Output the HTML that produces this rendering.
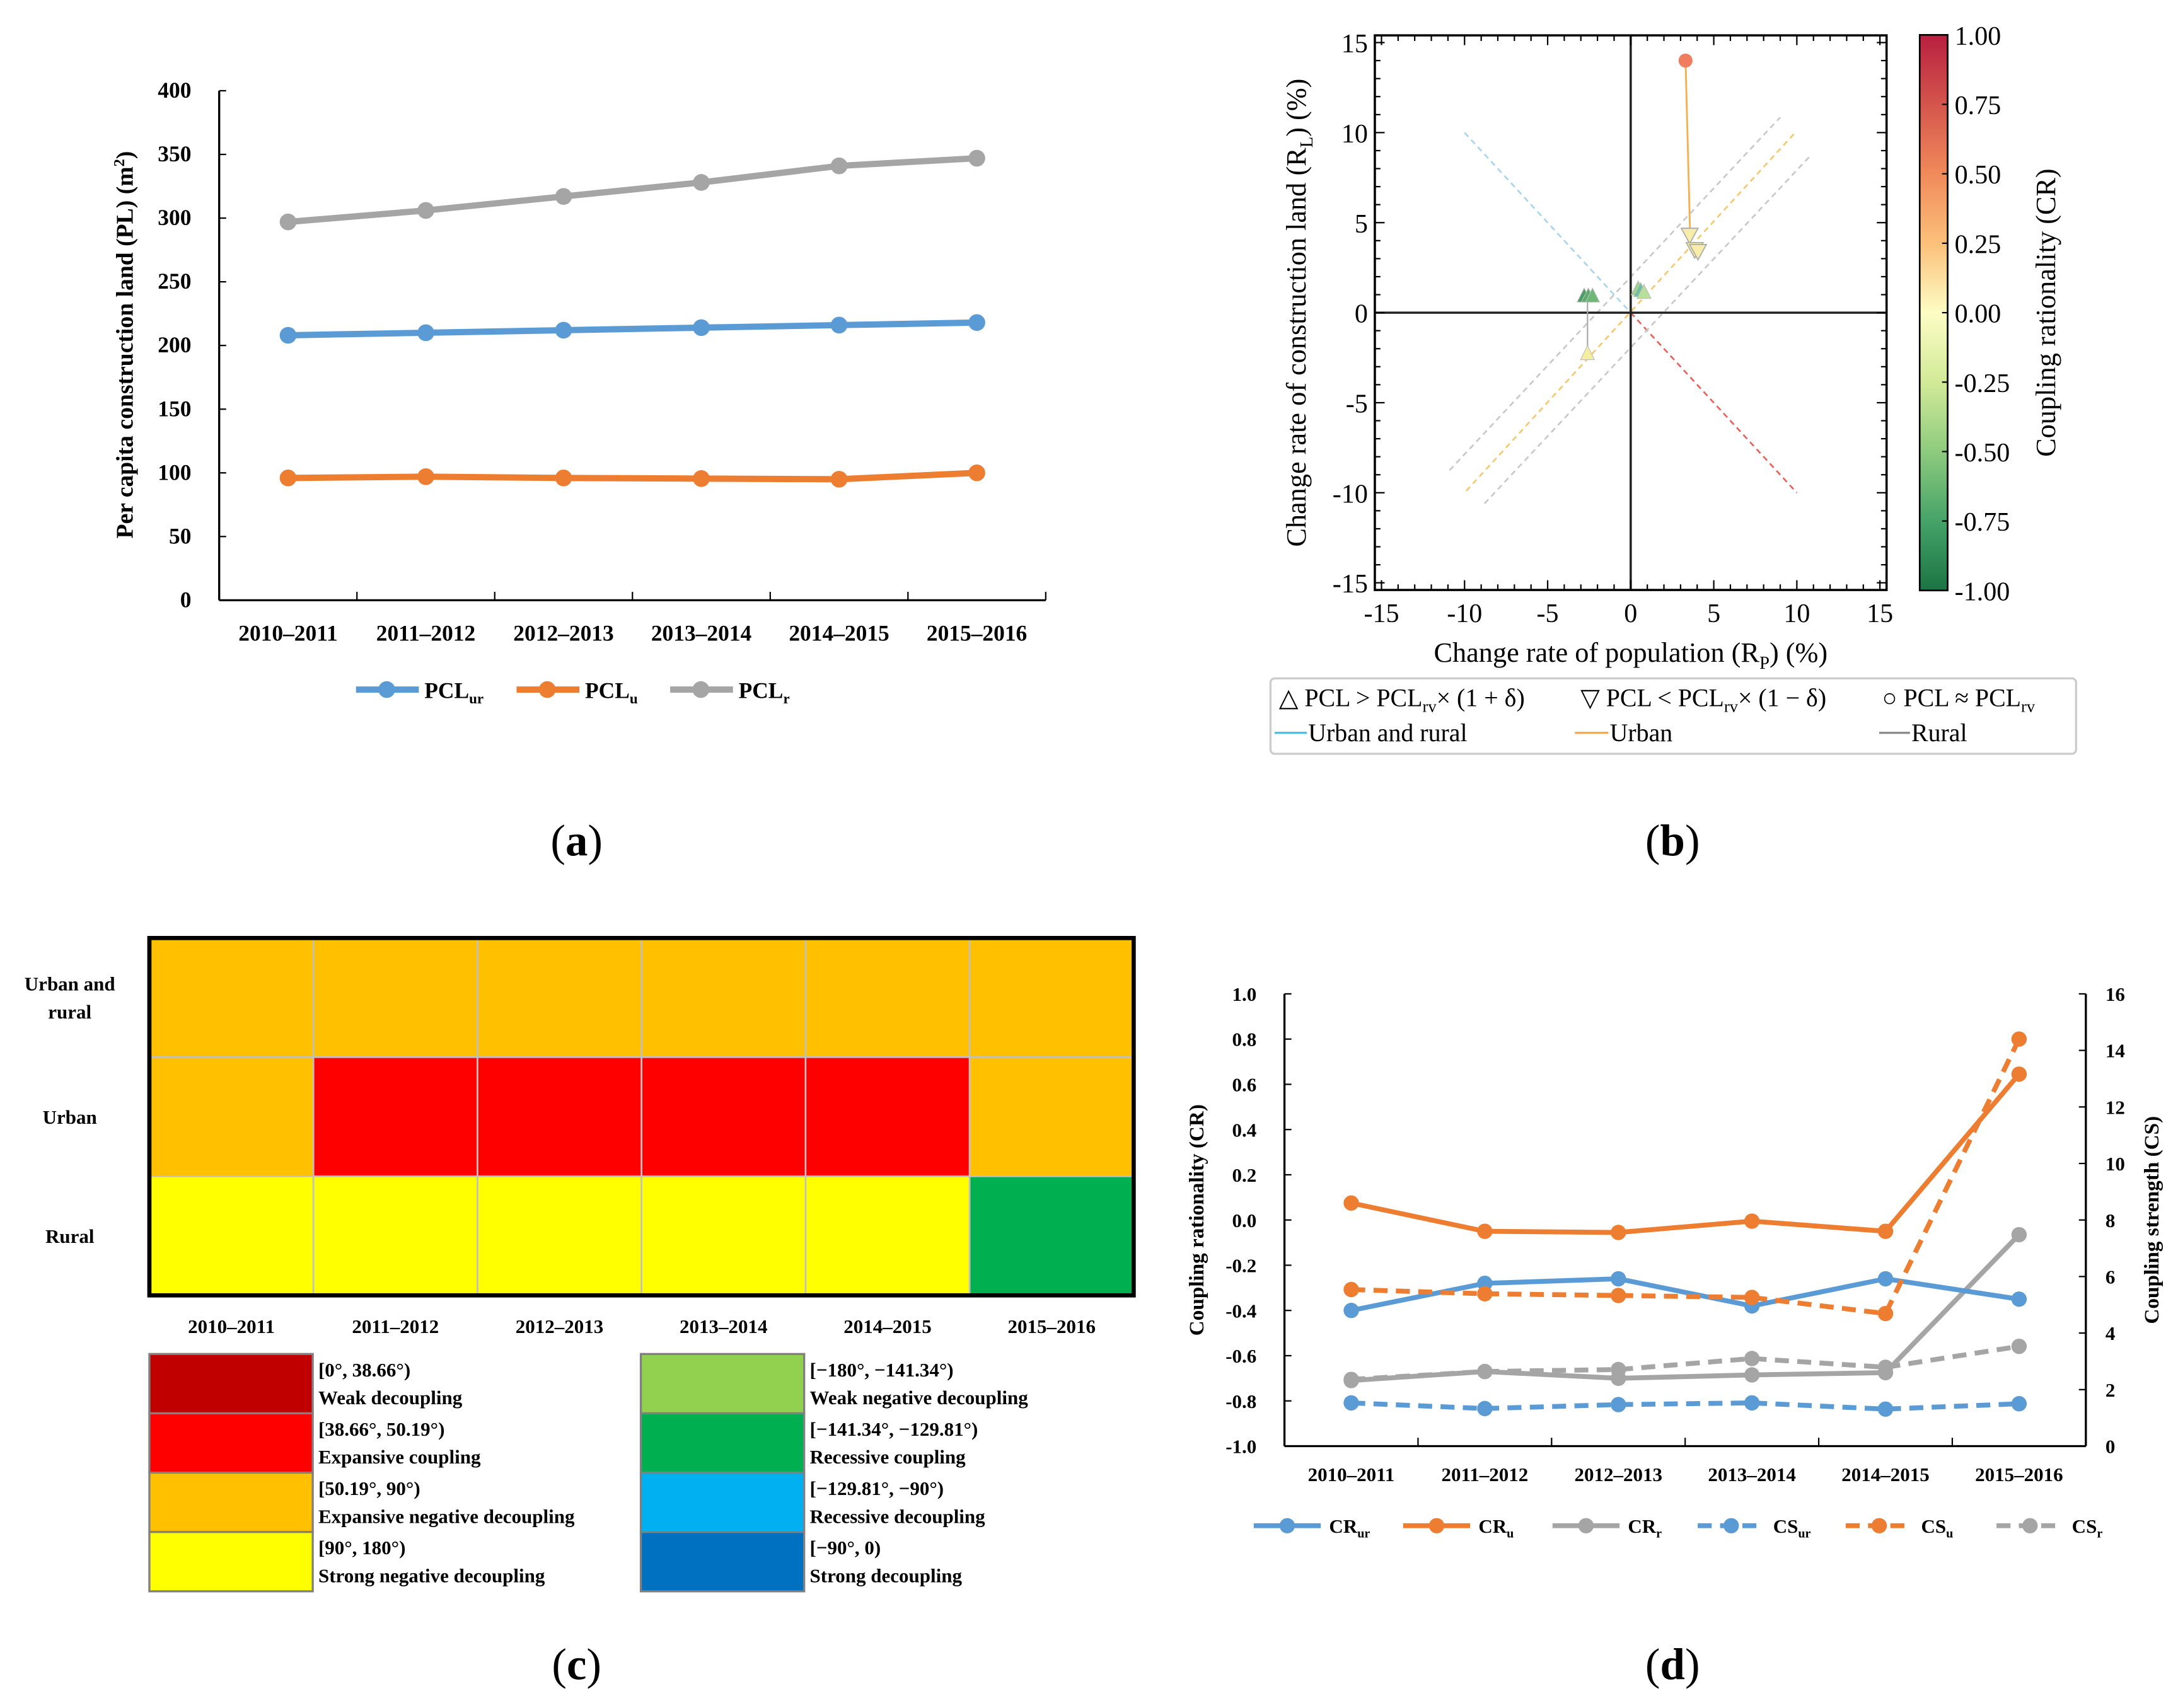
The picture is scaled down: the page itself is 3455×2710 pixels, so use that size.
<!DOCTYPE html>
<html><head><meta charset="utf-8"><style>
html,body{margin:0;padding:0;background:#fff;}
svg{display:block;}
.b{font-family:"Liberation Serif",serif;font-weight:bold;}
.r{font-family:"Liberation Serif",serif;}
</style></head><body>
<svg id="fig" width="3455" height="2710" viewBox="0 0 1560 1223.6" preserveAspectRatio="none" xmlns="http://www.w3.org/2000/svg">
<defs>
<linearGradient id="cbar" x1="0" y1="0" x2="0" y2="1">
<stop offset="0" stop-color="#b8203f"/><stop offset="0.25" stop-color="#f08a5a"/><stop offset="0.375" stop-color="#fcc07a"/><stop offset="0.5" stop-color="#fdfdc4"/><stop offset="0.625" stop-color="#d2ea98"/><stop offset="0.75" stop-color="#8ecb7e"/><stop offset="0.875" stop-color="#45a368"/><stop offset="1" stop-color="#1b7443"/>
</linearGradient>
</defs>
<g id="pa"></g>
<g id="pb"></g>
<g id="pc"></g>
<g id="pd"></g>
<text class="r" x="413" y="613" font-size="32" text-anchor="middle">(<tspan font-weight="bold">a</tspan>)</text>
<text class="r" x="1198" y="613" font-size="32" text-anchor="middle">(<tspan font-weight="bold">b</tspan>)</text>
<text class="r" x="413" y="1203" font-size="32" text-anchor="middle">(<tspan font-weight="bold">c</tspan>)</text>
<text class="r" x="1198" y="1203" font-size="32" text-anchor="middle">(<tspan font-weight="bold">d</tspan>)</text>
</svg>
<script>
// ---------- data ----------
const periods = ["2010–2011","2011–2012","2012–2013","2013–2014","2014–2015","2015–2016"];
// panel a
const aTicks = [0,50,100,150,200,250,300,350,400];
const pclUR = [208,210,212,214,216,218];
const pclU = [96,97,96,95.5,95,100];
const pclR = [297,306,317,328,341,347];
// panel b
const bTicks = [-15,-10,-5,0,5,10,15];
const cbTicks = ["1.00","0.75","0.50","0.25","0.00","-0.25","-0.50","-0.75","-1.00"];
const upTriX = [-2.8,-2.55,-2.3,0.45,0.6,0.8,-2.6];
const upTriY = [0.9,0.9,0.9,1.3,1.2,1.1,-2.3];
const upTriC = ["#4a9e64","#5aab6c","#6cb874","#9fd28a","#6cc0a0","#b8e09a","#f3efa0"];
const downTriX = [3.55,3.85,4.05];
const downTriY = [4.3,3.5,3.4];
const circX = [3.3];
const circY = [14.0];
// panel c
const rowLabels = [["Urban and","rural"],["Urban"],["Rural"]];
const cellClass = [[2,2,2,2,2,2],[2,1,1,1,1,2],[3,3,3,3,3,5]];
const classColors = ["#C00000","#FF0000","#FFC000","#FFFF00","#92D050","#00B050","#00B0F0","#0070C0"];
const classRange = ["[0°, 38.66°)","[38.66°, 50.19°)","[50.19°, 90°)","[90°, 180°)","[−180°, −141.34°)","[−141.34°, −129.81°)","[−129.81°, −90°)","[−90°, 0)"];
const className = ["Weak decoupling","Expansive coupling","Expansive negative decoupling","Strong negative decoupling","Weak negative decoupling","Recessive coupling","Recessive decoupling","Strong decoupling"];
// panel d
const crTicks = ["1.0","0.8","0.6","0.4","0.2","0.0","-0.2","-0.4","-0.6","-0.8","-1.0"];
const csTicks = [0,2,4,6,8,10,12,14,16];
const crUR = [-0.40,-0.28,-0.26,-0.38,-0.26,-0.35];
const crU = [0.075,-0.05,-0.055,-0.005,-0.05,0.645];
const crR = [-0.71,-0.67,-0.70,-0.685,-0.675,-0.065];
const csUR = [1.53,1.33,1.47,1.53,1.31,1.5];
const csU = [5.54,5.39,5.33,5.26,4.69,14.4];
const csR = [2.36,2.64,2.71,3.1,2.79,3.53];

const NS="http://www.w3.org/2000/svg";
function mk(parent,tag,attrs,txt){const e=document.createElementNS(NS,tag);for(const k in attrs)e.setAttribute(k,attrs[k]);if(txt!==undefined)e.textContent=txt;parent.appendChild(e);return e;}
function sub(t,main,s,fs){mk(t,'tspan',{},main);mk(t,'tspan',{dy:fs*0.25,'font-size':fs*0.65},s);}
const BLUE="#5B9BD5",ORANGE="#ED7D31",GRAY="#A5A5A5";

// ---------- panel a ----------
(function(){
const g=document.getElementById('pa');
const x0=157,x1=749,yb=430,yt=65;
const xc=i=>x0+(x1-x0)/6*(i+0.5);
const ya=v=>yb-(v/400)*(yb-yt);
let e=mk(g,'line',{x1:x0,y1:yt,x2:x0,y2:yb,stroke:'#000','stroke-width':1.5});

e=mk(g,'line',{x1:x0,y1:yb,x2:x1,y2:yb,stroke:'#000','stroke-width':1.5});

aTicks.forEach(v=>{mk(g,'line',{x1:x0,y1:ya(v),x2:x0+5,y2:ya(v),stroke:'#000'});
 e=mk(g,'text',{class:'b',x:x0-20,y:ya(v)+5,'font-size':16,'text-anchor':'end'},v);
 });
for(let i=1;i<=6;i++){const x=x0+(x1-x0)/6*i;mk(g,'line',{x1:x,y1:yb,x2:x,y2:yb-6,stroke:'#000'});}
periods.forEach((p,i)=>{e=mk(g,'text',{class:'b',x:xc(i),y:459,'font-size':16,'text-anchor':'middle'},p);
 });
e=mk(g,'text',{class:'b','font-size':17,'text-anchor':'middle',transform:'translate(95,247) rotate(-90)'},'Per capita construction land (PL) (m');
mk(e,'tspan',{dy:-6,'font-size':11},'2');mk(e,'tspan',{dy:6},')');

const series=[[pclUR,BLUE,'pcl-ur'],[pclU,ORANGE,'pcl-u'],[pclR,GRAY,'pcl-r']];
series.forEach(([d,c,n])=>{
 e=mk(g,'polyline',{points:d.map((v,i)=>xc(i)+','+ya(v)).join(' '),fill:'none',stroke:c,'stroke-width':4.5});
 
 d.forEach((v,i)=>{e=mk(g,'circle',{cx:xc(i),cy:ya(v),r:6,fill:c});
 });});
const leg=[[255,'PCL','ur',BLUE],[370,'PCL','u',ORANGE],[480,'PCL','r',GRAY]];
leg.forEach(([x,m,s,c])=>{const lg=mk(g,'g',{});
 
 mk(lg,'line',{x1:x,y1:494,x2:x+45,y2:494,stroke:c,'stroke-width':4.5});mk(lg,'circle',{cx:x+22,cy:494,r:6,fill:c});
 const t=mk(lg,'text',{class:'b',x:x+49,y:500,'font-size':16});sub(t,m,s,16);});
})();

// ---------- panel b ----------
(function(){
const g=document.getElementById('pb');
const cx=1168,cy=224,sx=11.9,sy=12.9;
const X=v=>cx+v*sx,Y=v=>cy-v*sy;
const L=X(-15.4),R=X(15.4),T=Y(15.4),B=Y(-15.4);
// dashed reference lines
const dl=[[-10,10,0,0,'#a8d4ee'],[0,0,10,-10,'#e8605a'],[-10.9,-8.75,9,10.85,'#c8c8c8'],[-8.8,-10.6,10.9,8.8,'#c8c8c8'],[-9.9,-9.9,9.9,10,'#f5c870']];
dl.forEach(([a,b,c,d,col])=>{const e=mk(g,'line',{x1:X(a),y1:Y(b),x2:X(c),y2:Y(d),stroke:col,'stroke-width':1.2,'stroke-dasharray':'4,3'});
 });
mk(g,'line',{x1:L,y1:cy,x2:R,y2:cy,stroke:'#222','stroke-width':1.6});
mk(g,'line',{x1:cx,y1:T,x2:cx,y2:B,stroke:'#222','stroke-width':1.6});
let e=mk(g,'rect',{x:L,y:T,width:R-L,height:B-T,fill:'none',stroke:'#000','stroke-width':1.6});

for(let v=-15;v<=15;v++){const maj=v%5===0,len=maj?7:4;
 mk(g,'line',{x1:X(v),y1:B,x2:X(v),y2:B-len,stroke:'#000'});mk(g,'line',{x1:X(v),y1:T,x2:X(v),y2:T+len,stroke:'#000'});
 mk(g,'line',{x1:L,y1:Y(v),x2:L+len,y2:Y(v),stroke:'#000'});mk(g,'line',{x1:R,y1:Y(v),x2:R-len,y2:Y(v),stroke:'#000'});}
bTicks.forEach(v=>{e=mk(g,'text',{class:'r',x:X(v),y:B+23,'font-size':19,'text-anchor':'middle'},v);
 
 e=mk(g,'text',{class:'r',x:L-5,y:Y(v)+7,'font-size':19,'text-anchor':'end'},v);
 });
// connecting lines
mk(g,'line',{x1:X(circX[0]),y1:Y(circY[0]),x2:X(3.6),y2:Y(3.5),stroke:'#f5b050','stroke-width':1.3});
mk(g,'line',{x1:X(-2.6),y1:Y(0.9),x2:X(-2.6),y2:Y(-2.3),stroke:'#aaa','stroke-width':1});
upTriX.forEach((x,i)=>{const px=X(x),py=Y(upTriY[i]);e=mk(g,'polygon',{points:`${px},${py-6} ${px-5},${py+4} ${px+5},${py+4}`,fill:upTriC[i],stroke:'#bbb','stroke-width':0.5});
 });
downTriX.forEach((x,i)=>{const px=X(x),py=Y(downTriY[i]);e=mk(g,'polygon',{points:`${px},${py+6} ${px-6},${py-5} ${px+6},${py-5}`,fill:'#f7eda8',stroke:'#aaa','stroke-width':0.8});
 });
circX.forEach((x,i)=>{e=mk(g,'circle',{cx:X(x),cy:Y(circY[i]),r:5,fill:'#ef7d5e'});
 });
e=mk(g,'text',{class:'r','font-size':20,'text-anchor':'middle',x:cx,y:474});sub(e,'Change rate of population (R','P',20);mk(e,'tspan',{dy:-5},') (%)');

e=mk(g,'text',{class:'r','font-size':20,'text-anchor':'middle',transform:'translate(935,224) rotate(-90)'});sub(e,'Change rate of construction land (R','L',20);mk(e,'tspan',{dy:-5},') (%)');

// colorbar
e=mk(g,'rect',{x:1375,y:25,width:20,height:398,fill:'url(#cbar)',stroke:'#000','stroke-width':1.2});

cbTicks.forEach((t,i)=>{const y=25+398/8*i;mk(g,'line',{x1:1391,y1:y,x2:1395,y2:y,stroke:'#000'});
 e=mk(g,'text',{class:'r',x:1400,y:y+7,'font-size':19},t);});
e=mk(g,'text',{class:'r','font-size':20,'text-anchor':'middle',transform:'translate(1472,224) rotate(-90)'},'Coupling rationality (CR)');

// legend
const lg=mk(g,'g',{});
mk(lg,'rect',{x:910,y:486,width:577,height:54,rx:3,fill:'#fff',stroke:'#ccc','stroke-width':1.5});
let t=mk(lg,'text',{class:'r',x:916,y:506,'font-size':18});t.textContent='△ PCL > PCL';mk(t,'tspan',{dy:4,'font-size':12},'rv');mk(t,'tspan',{dy:-4},'× (1 + δ)');
t=mk(lg,'text',{class:'r',x:1132,y:506,'font-size':18});t.textContent='▽ PCL < PCL';mk(t,'tspan',{dy:4,'font-size':12},'rv');mk(t,'tspan',{dy:-4},'× (1 − δ)');
t=mk(lg,'text',{class:'r',x:1348,y:506,'font-size':18});t.textContent='○ PCL ≈ PCL';mk(t,'tspan',{dy:4,'font-size':12},'rv');
mk(lg,'line',{x1:913,y1:525,x2:936,y2:525,stroke:'#3cc0e8','stroke-width':1.5});mk(lg,'text',{class:'r',x:937,y:531,'font-size':18},'Urban and rural');
mk(lg,'line',{x1:1128,y1:525,x2:1152,y2:525,stroke:'#f5a840','stroke-width':1.5});mk(lg,'text',{class:'r',x:1153,y:531,'font-size':18},'Urban');
mk(lg,'line',{x1:1346,y1:525,x2:1368,y2:525,stroke:'#888','stroke-width':1.5});mk(lg,'text',{class:'r',x:1369,y:531,'font-size':18},'Rural');
})();

// ---------- panel c ----------
(function(){
const g=document.getElementById('pc');
const x0=107,x1=812,y0=672,y1=928,cw=(x1-x0)/6,rh=(y1-y0)/3;
cellClass.forEach((row,r)=>row.forEach((k,c)=>{const e=mk(g,'rect',{x:x0+c*cw,y:y0+r*rh,width:cw,height:rh,fill:classColors[k],stroke:'#c0c0c0','stroke-width':1.2});
 }));
let e=mk(g,'rect',{x:x0,y:y0,width:x1-x0,height:y1-y0,fill:'none',stroke:'#000','stroke-width':3});

rowLabels.forEach((ls,r)=>{const cy=y0+rh*(r+0.5);ls.forEach((l,j)=>{e=mk(g,'text',{class:'b',x:50,y:cy+5+(j-(ls.length-1)/2)*20,'font-size':14,'text-anchor':'middle'},l);
 });});
periods.forEach((p,i)=>{e=mk(g,'text',{class:'b',x:x0+cw*(i+0.5),y:955,'font-size':14,'text-anchor':'middle'},p);
 });
classColors.forEach((col,k)=>{const left=k<4,i=k%4,sx=left?107:459,y=970+i*42.5;
 const lg=mk(g,'g',{});
 mk(lg,'rect',{x:sx,y:y,width:117,height:42.5,fill:col,stroke:'#808080','stroke-width':1.5});
 mk(lg,'text',{class:'b',x:sx+121,y:y+16,'font-size':14},classRange[k]);
 mk(lg,'text',{class:'b',x:sx+121,y:y+36,'font-size':14},className[k]);});
})();

// ---------- panel d ----------
(function(){
const g=document.getElementById('pd');
const x0=920,x1=1494,yt=712,yb=1036;
const xc=i=>x0+(x1-x0)/6*(i+0.5);
const yL=v=>yb-(v+1)/2*(yb-yt);
const yR=v=>yb-v/16*(yb-yt);
let e=mk(g,'line',{x1:x0,y1:yt,x2:x0,y2:yb,stroke:'#000','stroke-width':1.5});
e=mk(g,'line',{x1:x1,y1:yt,x2:x1,y2:yb,stroke:'#000','stroke-width':1.5});
e=mk(g,'line',{x1:x0,y1:yb,x2:x1,y2:yb,stroke:'#000','stroke-width':1.5});
crTicks.forEach(t=>{const y=yL(parseFloat(t));mk(g,'line',{x1:x0,y1:y,x2:x0+5,y2:y,stroke:'#000'});
 e=mk(g,'text',{class:'b',x:x0-20,y:y+5,'font-size':14,'text-anchor':'end'},t);});
csTicks.forEach(v=>{const y=yR(v);mk(g,'line',{x1:x1,y1:y,x2:x1-5,y2:y,stroke:'#000'});
 e=mk(g,'text',{class:'b',x:x1+14,y:y+5,'font-size':14},v);});
for(let i=1;i<6;i++){const x=x0+(x1-x0)/6*i;mk(g,'line',{x1:x,y1:yb,x2:x,y2:yb-6,stroke:'#000'});}
periods.forEach((p,i)=>{e=mk(g,'text',{class:'b',x:xc(i),y:1061,'font-size':14,'text-anchor':'middle'},p);
 });
e=mk(g,'text',{class:'b','font-size':15,'text-anchor':'middle',transform:'translate(862,874) rotate(-90)'},'Coupling rationality (CR)');

e=mk(g,'text',{class:'b','font-size':15,'text-anchor':'middle',transform:'translate(1546,874) rotate(-90)'},'Coupling strength (CS)');

const S=[[crUR,BLUE,yL,false,'cr-ur','CR','ur',898],[crU,ORANGE,yL,false,'cr-u','CR','u',1005],[crR,GRAY,yL,false,'cr-r','CR','r',1112],
 [csUR,BLUE,yR,true,'cs-ur','CS','ur',1216],[csU,ORANGE,yR,true,'cs-u','CS','u',1322],[csR,GRAY,yR,true,'cs-r','CS','r',1430]];
const order=[2,5,3,0,4,1];
order.forEach(k=>{const [d,c,yf,dash,n]=S[k];
 e=mk(g,'polyline',{points:d.map((v,i)=>xc(i)+','+yf(v)).join(' '),fill:'none',stroke:c,'stroke-width':3.5,'stroke-dasharray':dash?'10,6':'none'});
 
 d.forEach((v,i)=>{e=mk(g,'circle',{cx:xc(i),cy:yf(v),r:5.5,fill:c});});});
S.forEach(([d,c,yf,dash,n,m,s,x])=>{const lg=mk(g,'g',{});
 mk(lg,'line',{x1:x,y1:1093,x2:x+48,y2:1093,stroke:c,'stroke-width':3.5,'stroke-dasharray':dash?'10,6':'none'});
 mk(lg,'circle',{cx:x+24,cy:1093,r:5.5,fill:c});
 const t=mk(lg,'text',{class:'b',x:x+54,y:1098,'font-size':14});sub(t,m,s,14);});
})();
</script>
</body></html>
